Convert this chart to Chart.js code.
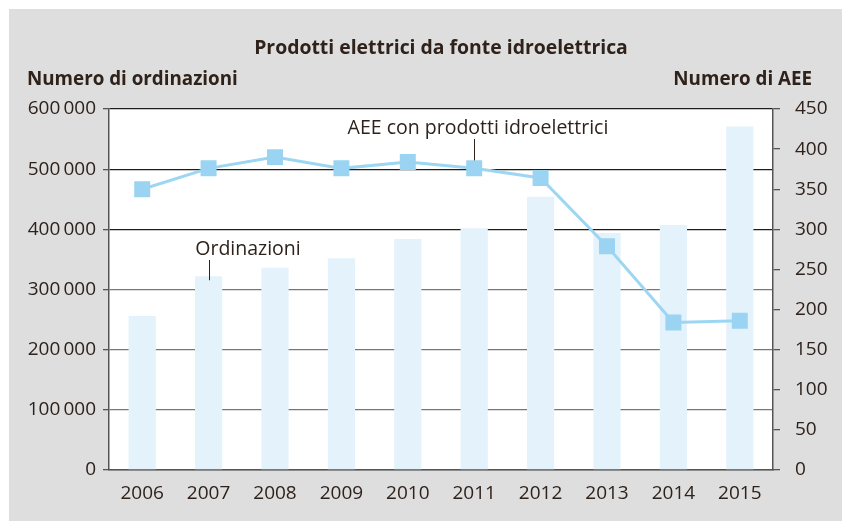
<!DOCTYPE html>
<html>
<head>
<meta charset="utf-8">
<script src="https://cdn.jsdelivr.net/npm/chart.js@4"></script>
<style>
  body { margin: 0; background: #fff; }
  canvas { display: block; }
</style>
</head>
<body>
<canvas id="hydroChart" width="842" height="521"></canvas>
<script>
// --- Data ---
const years = ['2006', '2007', '2008', '2009', '2010', '2011', '2012', '2013', '2014', '2015'];
const ordinazioni = [256000, 322000, 336000, 352000, 384000, 402000, 454000, 394000, 407000, 571000];
const aeeIdro = [350, 376, 390, 376, 384, 376, 364, 279, 184, 186];

const leftTicks = [0, 100000, 200000, 300000, 400000, 500000, 600000];
const rightTicks = [0, 50, 100, 150, 200, 250, 300, 350, 400, 450];

const textColor = '#2e221b';
const fontFamily = '"Open Sans", "Noto Sans", sans-serif';

// thin-space thousands separator, like "600 000"
function fmtThousands(v) {
    return String(v).replace(/\B(?=(\d{3})+(?!\d))/g, '\u2009');
}

// gray frame + white plot area
const backgroundPlugin = {
    id: 'background',
    beforeDraw(chart) {
        const { ctx, chartArea } = chart;
        ctx.save();
        ctx.fillStyle = '#dedede';
        ctx.fillRect(9, 9, chart.width - 9, chart.height - 9);
        ctx.fillStyle = '#ffffff';
        ctx.fillRect(chartArea.left, chartArea.top, chartArea.right - chartArea.left, chartArea.bottom - chartArea.top);
        ctx.restore();
    }
};

// titles, axis captions and the two callouts
const labelsPlugin = {
    id: 'labels',
    afterDraw(chart) {
        const { ctx } = chart;
        const x = chart.scales.x;
        const y = chart.scales.y;
        const y1 = chart.scales.y1;
        ctx.save();
        ctx.fillStyle = textColor;
        ctx.textBaseline = 'alphabetic';

        ctx.font = 'bold 19.4px ' + fontFamily;
        ctx.textAlign = 'center';
        ctx.fillText('Prodotti elettrici da fonte idroelettrica', 441, 54);

        ctx.font = 'bold 18.8px ' + fontFamily;
        ctx.textAlign = 'left';
        ctx.fillText('Numero di ordinazioni', 27, 85);
        ctx.textAlign = 'right';
        ctx.fillText('Numero di AEE', 812, 85);

        ctx.font = '19.5px ' + fontFamily;
        ctx.textAlign = 'center';
        ctx.fillText('AEE con prodotti idroelettrici', 478, 134);
        ctx.fillText('Ordinazioni', 248, 255);

        // leader lines
        ctx.strokeStyle = textColor;
        ctx.lineWidth = 1;
        const xa = Math.round(x.getPixelForValue(5)) + 0.5;
        ctx.beginPath();
        ctx.moveTo(xa, 139);
        ctx.lineTo(xa, y1.getPixelForValue(aeeIdro[5]) - 8);
        ctx.stroke();

        const xo = Math.round(x.getPixelForValue(1)) + 0.5;
        ctx.beginPath();
        ctx.moveTo(xo, 260);
        ctx.lineTo(xo, y.getPixelForValue(ordinazioni[1]) + 4);
        ctx.stroke();

        ctx.restore();
    }
};

const ctx = document.getElementById('hydroChart').getContext('2d');
const tickFont = { family: fontFamily, size: 19 };

new Chart(ctx, {
    data: {
        labels: years,
        datasets: [
            {
                type: 'line',
                label: 'AEE con prodotti idroelettrici',
                data: aeeIdro,
                yAxisID: 'y1',
                borderColor: '#9dd6f2',
                borderWidth: 3,
                pointStyle: 'rect',
                pointRadius: 11.3,
                pointBackgroundColor: '#9ad4f2',
                pointBorderWidth: 0,
                tension: 0,
                order: 0
            },
            {
                type: 'bar',
                label: 'Ordinazioni',
                data: ordinazioni,
                yAxisID: 'y',
                backgroundColor: '#e4f3fb',
                categoryPercentage: 1,
                barPercentage: 0.41,
                order: 1
            }
        ]
    },
    options: {
        responsive: false,
        animation: false,
        layout: { padding: { top: 109, left: 0, right: 0, bottom: 0 } },
        plugins: {
            legend: { display: false },
            tooltip: { enabled: false }
        },
        scales: {
            x: {
                grid: { display: false, drawTicks: false },
                border: { display: true, color: '#555', width: 1.5 },
                ticks: {
                    color: textColor,
                    font: tickFont,
                    padding: 12,
                    maxRotation: 0
                },
                afterFit(scale) { scale.height = 51; }
            },
            y: {
                position: 'left',
                min: 0,
                max: 600000,
                afterBuildTicks(scale) { scale.ticks = leftTicks.map(v => ({ value: v })); },
                grid: {
                    color: c => (c.tick && c.tick.value >= 400000 ? '#1e1e1e' : '#777'),
                    tickColor: '#555',
                    lineWidth: 1.3,
                    tickLength: 6
                },
                border: { display: true, color: '#555', width: 1.5 },
                ticks: {
                    color: textColor,
                    font: tickFont,
                    padding: 7,
                    callback: v => fmtThousands(v)
                },
                afterFit(scale) { scale.width = 109; }
            },
            y1: {
                position: 'right',
                min: 0,
                max: 450,
                afterBuildTicks(scale) { scale.ticks = rightTicks.map(v => ({ value: v })); },
                grid: {
                    drawOnChartArea: false,
                    color: '#555',
                    lineWidth: 1.3,
                    tickLength: 7
                },
                border: { display: true, color: '#555', width: 1.5 },
                ticks: {
                    color: textColor,
                    font: tickFont,
                    padding: 15
                },
                afterFit(scale) { scale.width = 69; }
            }
        }
    },
    plugins: [backgroundPlugin, labelsPlugin]
});
</script>
</body>
</html>
